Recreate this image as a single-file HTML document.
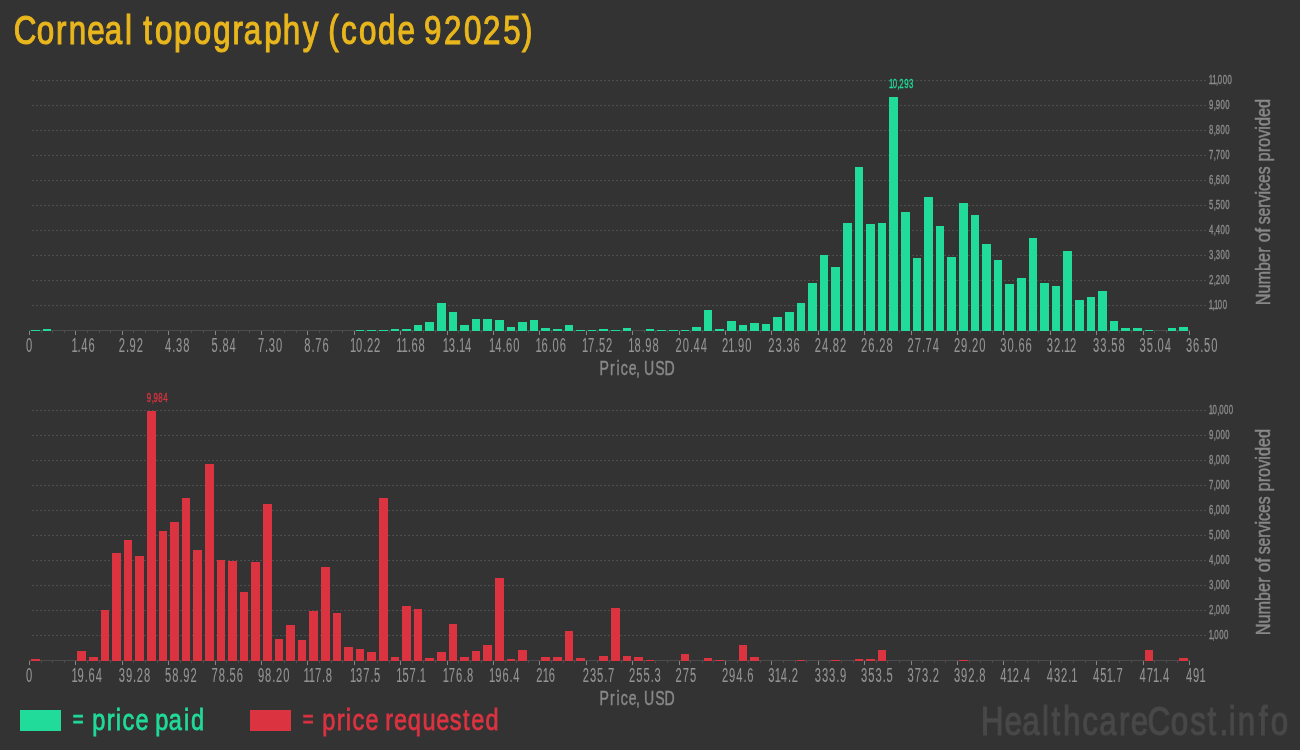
<!DOCTYPE html>
<html lang="en">
<head>
<meta charset="utf-8">
<title>Corneal topography (code 92025)</title>
<style>
html,body{margin:0;padding:0;background:#333333;}
body{width:1300px;height:750px;overflow:hidden;}
svg{display:block;font-family:"Liberation Sans",Arial,Helvetica,sans-serif;}
.c{shape-rendering:crispEdges;}
.g{shape-rendering:crispEdges;stroke:#4e4e4e;stroke-width:1;stroke-dasharray:2 2;}
</style>
</head>
<body>
<svg width="1300" height="750" viewBox="0 0 1300 750">
<rect x="0" y="0" width="1300" height="750" fill="#333333"/>
<text transform="translate(0 44.4) scale(0.775 1)" x="17.68 47.45 72.26 88.71 112.66 135.28 161.32 170.32 184.85 200.03 224.43 250.03 275.01 300.00 314.63 340.88 364.80 390.80 412.90 423.55 439.91 463.25 487.69 512.98 535.48 547.12 572.97 598.74 623.29 649.43 673.51" font-size="40.4" fill="#E9B61D" stroke="#E9B61D" stroke-width="1.05" vector-effect="non-scaling-stroke" xml:space="preserve">Corneal topography (code 92025)</text>
<g id="chart-paid">
<line class="g" x1="32" x2="1206" y1="80.5" y2="80.5"/>
<line class="g" x1="32" x2="1206" y1="105.5" y2="105.5"/>
<line class="g" x1="32" x2="1206" y1="130.5" y2="130.5"/>
<line class="g" x1="32" x2="1206" y1="155.5" y2="155.5"/>
<line class="g" x1="32" x2="1206" y1="180.5" y2="180.5"/>
<line class="g" x1="32" x2="1206" y1="205.5" y2="205.5"/>
<line class="g" x1="32" x2="1206" y1="230.5" y2="230.5"/>
<line class="g" x1="32" x2="1206" y1="255.5" y2="255.5"/>
<line class="g" x1="32" x2="1206" y1="280.5" y2="280.5"/>
<line class="g" x1="32" x2="1206" y1="305.5" y2="305.5"/>
<rect class="c" x="29" y="330" width="1161" height="1" fill="#4c4c4c"/>
<rect class="c" x="29" y="331" width="1" height="4" fill="#858585"/>
<rect class="c" x="41" y="331" width="1" height="2" fill="#4d4d4d"/>
<rect class="c" x="52" y="331" width="1" height="2" fill="#4d4d4d"/>
<rect class="c" x="64" y="331" width="1" height="2" fill="#4d4d4d"/>
<rect class="c" x="75" y="331" width="1" height="4" fill="#858585"/>
<rect class="c" x="87" y="331" width="1" height="2" fill="#4d4d4d"/>
<rect class="c" x="99" y="331" width="1" height="2" fill="#4d4d4d"/>
<rect class="c" x="110" y="331" width="1" height="2" fill="#4d4d4d"/>
<rect class="c" x="122" y="331" width="1" height="4" fill="#858585"/>
<rect class="c" x="133" y="331" width="1" height="2" fill="#4d4d4d"/>
<rect class="c" x="145" y="331" width="1" height="2" fill="#4d4d4d"/>
<rect class="c" x="157" y="331" width="1" height="2" fill="#4d4d4d"/>
<rect class="c" x="168" y="331" width="1" height="4" fill="#858585"/>
<rect class="c" x="180" y="331" width="1" height="2" fill="#4d4d4d"/>
<rect class="c" x="191" y="331" width="1" height="2" fill="#4d4d4d"/>
<rect class="c" x="203" y="331" width="1" height="2" fill="#4d4d4d"/>
<rect class="c" x="215" y="331" width="1" height="4" fill="#858585"/>
<rect class="c" x="226" y="331" width="1" height="2" fill="#4d4d4d"/>
<rect class="c" x="238" y="331" width="1" height="2" fill="#4d4d4d"/>
<rect class="c" x="249" y="331" width="1" height="2" fill="#4d4d4d"/>
<rect class="c" x="261" y="331" width="1" height="4" fill="#858585"/>
<rect class="c" x="273" y="331" width="1" height="2" fill="#4d4d4d"/>
<rect class="c" x="284" y="331" width="1" height="2" fill="#4d4d4d"/>
<rect class="c" x="296" y="331" width="1" height="2" fill="#4d4d4d"/>
<rect class="c" x="307" y="331" width="1" height="4" fill="#858585"/>
<rect class="c" x="319" y="331" width="1" height="2" fill="#4d4d4d"/>
<rect class="c" x="331" y="331" width="1" height="2" fill="#4d4d4d"/>
<rect class="c" x="342" y="331" width="1" height="2" fill="#4d4d4d"/>
<rect class="c" x="354" y="331" width="1" height="4" fill="#858585"/>
<rect class="c" x="365" y="331" width="1" height="2" fill="#4d4d4d"/>
<rect class="c" x="377" y="331" width="1" height="2" fill="#4d4d4d"/>
<rect class="c" x="389" y="331" width="1" height="2" fill="#4d4d4d"/>
<rect class="c" x="400" y="331" width="1" height="4" fill="#858585"/>
<rect class="c" x="412" y="331" width="1" height="2" fill="#4d4d4d"/>
<rect class="c" x="423" y="331" width="1" height="2" fill="#4d4d4d"/>
<rect class="c" x="435" y="331" width="1" height="2" fill="#4d4d4d"/>
<rect class="c" x="447" y="331" width="1" height="4" fill="#858585"/>
<rect class="c" x="458" y="331" width="1" height="2" fill="#4d4d4d"/>
<rect class="c" x="470" y="331" width="1" height="2" fill="#4d4d4d"/>
<rect class="c" x="481" y="331" width="1" height="2" fill="#4d4d4d"/>
<rect class="c" x="493" y="331" width="1" height="4" fill="#858585"/>
<rect class="c" x="505" y="331" width="1" height="2" fill="#4d4d4d"/>
<rect class="c" x="516" y="331" width="1" height="2" fill="#4d4d4d"/>
<rect class="c" x="528" y="331" width="1" height="2" fill="#4d4d4d"/>
<rect class="c" x="539" y="331" width="1" height="4" fill="#858585"/>
<rect class="c" x="551" y="331" width="1" height="2" fill="#4d4d4d"/>
<rect class="c" x="563" y="331" width="1" height="2" fill="#4d4d4d"/>
<rect class="c" x="574" y="331" width="1" height="2" fill="#4d4d4d"/>
<rect class="c" x="586" y="331" width="1" height="4" fill="#858585"/>
<rect class="c" x="597" y="331" width="1" height="2" fill="#4d4d4d"/>
<rect class="c" x="609" y="331" width="1" height="2" fill="#4d4d4d"/>
<rect class="c" x="621" y="331" width="1" height="2" fill="#4d4d4d"/>
<rect class="c" x="632" y="331" width="1" height="4" fill="#858585"/>
<rect class="c" x="644" y="331" width="1" height="2" fill="#4d4d4d"/>
<rect class="c" x="655" y="331" width="1" height="2" fill="#4d4d4d"/>
<rect class="c" x="667" y="331" width="1" height="2" fill="#4d4d4d"/>
<rect class="c" x="679" y="331" width="1" height="4" fill="#858585"/>
<rect class="c" x="690" y="331" width="1" height="2" fill="#4d4d4d"/>
<rect class="c" x="702" y="331" width="1" height="2" fill="#4d4d4d"/>
<rect class="c" x="713" y="331" width="1" height="2" fill="#4d4d4d"/>
<rect class="c" x="725" y="331" width="1" height="4" fill="#858585"/>
<rect class="c" x="737" y="331" width="1" height="2" fill="#4d4d4d"/>
<rect class="c" x="748" y="331" width="1" height="2" fill="#4d4d4d"/>
<rect class="c" x="760" y="331" width="1" height="2" fill="#4d4d4d"/>
<rect class="c" x="771" y="331" width="1" height="4" fill="#858585"/>
<rect class="c" x="783" y="331" width="1" height="2" fill="#4d4d4d"/>
<rect class="c" x="795" y="331" width="1" height="2" fill="#4d4d4d"/>
<rect class="c" x="806" y="331" width="1" height="2" fill="#4d4d4d"/>
<rect class="c" x="818" y="331" width="1" height="4" fill="#858585"/>
<rect class="c" x="829" y="331" width="1" height="2" fill="#4d4d4d"/>
<rect class="c" x="841" y="331" width="1" height="2" fill="#4d4d4d"/>
<rect class="c" x="853" y="331" width="1" height="2" fill="#4d4d4d"/>
<rect class="c" x="864" y="331" width="1" height="4" fill="#858585"/>
<rect class="c" x="876" y="331" width="1" height="2" fill="#4d4d4d"/>
<rect class="c" x="887" y="331" width="1" height="2" fill="#4d4d4d"/>
<rect class="c" x="899" y="331" width="1" height="2" fill="#4d4d4d"/>
<rect class="c" x="911" y="331" width="1" height="4" fill="#858585"/>
<rect class="c" x="922" y="331" width="1" height="2" fill="#4d4d4d"/>
<rect class="c" x="934" y="331" width="1" height="2" fill="#4d4d4d"/>
<rect class="c" x="945" y="331" width="1" height="2" fill="#4d4d4d"/>
<rect class="c" x="957" y="331" width="1" height="4" fill="#858585"/>
<rect class="c" x="969" y="331" width="1" height="2" fill="#4d4d4d"/>
<rect class="c" x="980" y="331" width="1" height="2" fill="#4d4d4d"/>
<rect class="c" x="992" y="331" width="1" height="2" fill="#4d4d4d"/>
<rect class="c" x="1003" y="331" width="1" height="4" fill="#858585"/>
<rect class="c" x="1015" y="331" width="1" height="2" fill="#4d4d4d"/>
<rect class="c" x="1027" y="331" width="1" height="2" fill="#4d4d4d"/>
<rect class="c" x="1038" y="331" width="1" height="2" fill="#4d4d4d"/>
<rect class="c" x="1050" y="331" width="1" height="4" fill="#858585"/>
<rect class="c" x="1061" y="331" width="1" height="2" fill="#4d4d4d"/>
<rect class="c" x="1073" y="331" width="1" height="2" fill="#4d4d4d"/>
<rect class="c" x="1085" y="331" width="1" height="2" fill="#4d4d4d"/>
<rect class="c" x="1096" y="331" width="1" height="4" fill="#858585"/>
<rect class="c" x="1108" y="331" width="1" height="2" fill="#4d4d4d"/>
<rect class="c" x="1119" y="331" width="1" height="2" fill="#4d4d4d"/>
<rect class="c" x="1131" y="331" width="1" height="2" fill="#4d4d4d"/>
<rect class="c" x="1143" y="331" width="1" height="4" fill="#858585"/>
<rect class="c" x="1154" y="331" width="1" height="2" fill="#4d4d4d"/>
<rect class="c" x="1166" y="331" width="1" height="2" fill="#4d4d4d"/>
<rect class="c" x="1177" y="331" width="1" height="2" fill="#4d4d4d"/>
<rect class="c" x="1189" y="331" width="1" height="4" fill="#858585"/>
<rect class="c" x="31" y="330" width="9" height="1" fill="#20DB99"/>
<rect class="c" x="43" y="329" width="8" height="2" fill="#20DB99"/>
<rect class="c" x="356" y="330" width="8" height="1" fill="#20DB99"/>
<rect class="c" x="367" y="330" width="9" height="1" fill="#20DB99"/>
<rect class="c" x="379" y="330" width="9" height="1" fill="#20DB99"/>
<rect class="c" x="391" y="329" width="8" height="2" fill="#20DB99"/>
<rect class="c" x="402" y="329" width="9" height="2" fill="#20DB99"/>
<rect class="c" x="414" y="325" width="8" height="6" fill="#20DB99"/>
<rect class="c" x="425" y="322" width="9" height="9" fill="#20DB99"/>
<rect class="c" x="437" y="303" width="9" height="28" fill="#20DB99"/>
<rect class="c" x="449" y="312" width="8" height="19" fill="#20DB99"/>
<rect class="c" x="460" y="325" width="9" height="6" fill="#20DB99"/>
<rect class="c" x="472" y="319" width="8" height="12" fill="#20DB99"/>
<rect class="c" x="483" y="319" width="9" height="12" fill="#20DB99"/>
<rect class="c" x="495" y="320" width="9" height="11" fill="#20DB99"/>
<rect class="c" x="507" y="327" width="8" height="4" fill="#20DB99"/>
<rect class="c" x="518" y="322" width="9" height="9" fill="#20DB99"/>
<rect class="c" x="530" y="320" width="8" height="11" fill="#20DB99"/>
<rect class="c" x="541" y="328" width="9" height="3" fill="#20DB99"/>
<rect class="c" x="553" y="329" width="9" height="2" fill="#20DB99"/>
<rect class="c" x="565" y="325" width="8" height="6" fill="#20DB99"/>
<rect class="c" x="576" y="330" width="9" height="1" fill="#20DB99"/>
<rect class="c" x="588" y="330" width="8" height="1" fill="#20DB99"/>
<rect class="c" x="599" y="329" width="9" height="2" fill="#20DB99"/>
<rect class="c" x="611" y="330" width="9" height="1" fill="#20DB99"/>
<rect class="c" x="623" y="328" width="8" height="3" fill="#20DB99"/>
<rect class="c" x="646" y="329" width="8" height="2" fill="#20DB99"/>
<rect class="c" x="657" y="330" width="9" height="1" fill="#20DB99"/>
<rect class="c" x="669" y="330" width="9" height="1" fill="#20DB99"/>
<rect class="c" x="681" y="330" width="8" height="1" fill="#20DB99"/>
<rect class="c" x="692" y="327" width="9" height="4" fill="#20DB99"/>
<rect class="c" x="704" y="310" width="8" height="21" fill="#20DB99"/>
<rect class="c" x="715" y="329" width="9" height="2" fill="#20DB99"/>
<rect class="c" x="727" y="321" width="9" height="10" fill="#20DB99"/>
<rect class="c" x="739" y="325" width="8" height="6" fill="#20DB99"/>
<rect class="c" x="750" y="323" width="9" height="8" fill="#20DB99"/>
<rect class="c" x="762" y="324" width="8" height="7" fill="#20DB99"/>
<rect class="c" x="773" y="317" width="9" height="14" fill="#20DB99"/>
<rect class="c" x="785" y="312" width="9" height="19" fill="#20DB99"/>
<rect class="c" x="797" y="303" width="8" height="28" fill="#20DB99"/>
<rect class="c" x="808" y="283" width="9" height="48" fill="#20DB99"/>
<rect class="c" x="820" y="255" width="8" height="76" fill="#20DB99"/>
<rect class="c" x="831" y="267" width="9" height="64" fill="#20DB99"/>
<rect class="c" x="843" y="223" width="9" height="108" fill="#20DB99"/>
<rect class="c" x="855" y="167" width="8" height="164" fill="#20DB99"/>
<rect class="c" x="866" y="224" width="9" height="107" fill="#20DB99"/>
<rect class="c" x="878" y="223" width="8" height="108" fill="#20DB99"/>
<rect class="c" x="889" y="97" width="9" height="234" fill="#20DB99"/>
<rect class="c" x="901" y="212" width="9" height="119" fill="#20DB99"/>
<rect class="c" x="913" y="258" width="8" height="73" fill="#20DB99"/>
<rect class="c" x="924" y="197" width="9" height="134" fill="#20DB99"/>
<rect class="c" x="936" y="226" width="8" height="105" fill="#20DB99"/>
<rect class="c" x="947" y="257" width="9" height="74" fill="#20DB99"/>
<rect class="c" x="959" y="203" width="9" height="128" fill="#20DB99"/>
<rect class="c" x="971" y="215" width="8" height="116" fill="#20DB99"/>
<rect class="c" x="982" y="244" width="9" height="87" fill="#20DB99"/>
<rect class="c" x="994" y="260" width="8" height="71" fill="#20DB99"/>
<rect class="c" x="1005" y="284" width="9" height="47" fill="#20DB99"/>
<rect class="c" x="1017" y="278" width="9" height="53" fill="#20DB99"/>
<rect class="c" x="1029" y="238" width="8" height="93" fill="#20DB99"/>
<rect class="c" x="1040" y="283" width="9" height="48" fill="#20DB99"/>
<rect class="c" x="1052" y="286" width="8" height="45" fill="#20DB99"/>
<rect class="c" x="1063" y="251" width="9" height="80" fill="#20DB99"/>
<rect class="c" x="1075" y="300" width="9" height="31" fill="#20DB99"/>
<rect class="c" x="1087" y="297" width="8" height="34" fill="#20DB99"/>
<rect class="c" x="1098" y="291" width="9" height="40" fill="#20DB99"/>
<rect class="c" x="1110" y="321" width="8" height="10" fill="#20DB99"/>
<rect class="c" x="1121" y="328" width="9" height="3" fill="#20DB99"/>
<rect class="c" x="1133" y="328" width="9" height="3" fill="#20DB99"/>
<rect class="c" x="1145" y="330" width="8" height="1" fill="#20DB99"/>
<rect class="c" x="1168" y="328" width="8" height="3" fill="#20DB99"/>
<rect class="c" x="1179" y="327" width="9" height="4" fill="#20DB99"/>
<text transform="translate(25.90 352.30) scale(0.57 1)" x="0.00" font-size="19.6" fill="#949494" stroke="#949494" stroke-width="0.08" vector-effect="non-scaling-stroke">0</text>
<text transform="translate(72.30 352.30) scale(0.57 1)" x="-1.40 9.30 15.79 28.42" font-size="19.6" fill="#949494" stroke="#949494" stroke-width="0.08" vector-effect="non-scaling-stroke">1.46</text>
<text transform="translate(118.70 352.30) scale(0.57 1)" x="0.00 12.63 19.12 31.75" font-size="19.6" fill="#949494" stroke="#949494" stroke-width="0.08" vector-effect="non-scaling-stroke">2.92</text>
<text transform="translate(165.10 352.30) scale(0.57 1)" x="0.00 12.63 19.12 31.75" font-size="19.6" fill="#949494" stroke="#949494" stroke-width="0.08" vector-effect="non-scaling-stroke">4.38</text>
<text transform="translate(211.50 352.30) scale(0.57 1)" x="0.00 12.63 19.12 31.75" font-size="19.6" fill="#949494" stroke="#949494" stroke-width="0.08" vector-effect="non-scaling-stroke">5.84</text>
<text transform="translate(257.90 352.30) scale(0.57 1)" x="0.00 12.63 19.12 31.75" font-size="19.6" fill="#949494" stroke="#949494" stroke-width="0.08" vector-effect="non-scaling-stroke">7.30</text>
<text transform="translate(304.30 352.30) scale(0.57 1)" x="0.00 12.63 19.12 31.75" font-size="19.6" fill="#949494" stroke="#949494" stroke-width="0.08" vector-effect="non-scaling-stroke">8.76</text>
<text transform="translate(350.70 352.30) scale(0.57 1)" x="-1.40 9.30 21.93 28.42 41.05" font-size="19.6" fill="#949494" stroke="#949494" stroke-width="0.08" vector-effect="non-scaling-stroke">10.22</text>
<text transform="translate(397.10 352.30) scale(0.57 1)" x="-1.40 7.89 18.60 25.09 37.72" font-size="19.6" fill="#949494" stroke="#949494" stroke-width="0.08" vector-effect="non-scaling-stroke">11.68</text>
<text transform="translate(443.50 352.30) scale(0.57 1)" x="-1.40 9.30 21.93 27.02 37.72" font-size="19.6" fill="#949494" stroke="#949494" stroke-width="0.08" vector-effect="non-scaling-stroke">13.14</text>
<text transform="translate(489.90 352.30) scale(0.57 1)" x="-1.40 9.30 21.93 28.42 41.05" font-size="19.6" fill="#949494" stroke="#949494" stroke-width="0.08" vector-effect="non-scaling-stroke">14.60</text>
<text transform="translate(536.30 352.30) scale(0.57 1)" x="-1.40 9.30 21.93 28.42 41.05" font-size="19.6" fill="#949494" stroke="#949494" stroke-width="0.08" vector-effect="non-scaling-stroke">16.06</text>
<text transform="translate(582.70 352.30) scale(0.57 1)" x="-1.40 9.30 21.93 28.42 41.05" font-size="19.6" fill="#949494" stroke="#949494" stroke-width="0.08" vector-effect="non-scaling-stroke">17.52</text>
<text transform="translate(629.10 352.30) scale(0.57 1)" x="-1.40 9.30 21.93 28.42 41.05" font-size="19.6" fill="#949494" stroke="#949494" stroke-width="0.08" vector-effect="non-scaling-stroke">18.98</text>
<text transform="translate(675.50 352.30) scale(0.57 1)" x="0.00 12.63 25.26 31.75 44.39" font-size="19.6" fill="#949494" stroke="#949494" stroke-width="0.08" vector-effect="non-scaling-stroke">20.44</text>
<text transform="translate(721.90 352.30) scale(0.57 1)" x="0.00 11.23 21.93 28.42 41.05" font-size="19.6" fill="#949494" stroke="#949494" stroke-width="0.08" vector-effect="non-scaling-stroke">21.90</text>
<text transform="translate(768.30 352.30) scale(0.57 1)" x="0.00 12.63 25.26 31.75 44.39" font-size="19.6" fill="#949494" stroke="#949494" stroke-width="0.08" vector-effect="non-scaling-stroke">23.36</text>
<text transform="translate(814.70 352.30) scale(0.57 1)" x="0.00 12.63 25.26 31.75 44.39" font-size="19.6" fill="#949494" stroke="#949494" stroke-width="0.08" vector-effect="non-scaling-stroke">24.82</text>
<text transform="translate(861.10 352.30) scale(0.57 1)" x="0.00 12.63 25.26 31.75 44.39" font-size="19.6" fill="#949494" stroke="#949494" stroke-width="0.08" vector-effect="non-scaling-stroke">26.28</text>
<text transform="translate(907.50 352.30) scale(0.57 1)" x="0.00 12.63 25.26 31.75 44.39" font-size="19.6" fill="#949494" stroke="#949494" stroke-width="0.08" vector-effect="non-scaling-stroke">27.74</text>
<text transform="translate(953.90 352.30) scale(0.57 1)" x="0.00 12.63 25.26 31.75 44.39" font-size="19.6" fill="#949494" stroke="#949494" stroke-width="0.08" vector-effect="non-scaling-stroke">29.20</text>
<text transform="translate(1000.30 352.30) scale(0.57 1)" x="0.00 12.63 25.26 31.75 44.39" font-size="19.6" fill="#949494" stroke="#949494" stroke-width="0.08" vector-effect="non-scaling-stroke">30.66</text>
<text transform="translate(1046.70 352.30) scale(0.57 1)" x="0.00 12.63 25.26 30.35 41.05" font-size="19.6" fill="#949494" stroke="#949494" stroke-width="0.08" vector-effect="non-scaling-stroke">32.12</text>
<text transform="translate(1093.10 352.30) scale(0.57 1)" x="0.00 12.63 25.26 31.75 44.39" font-size="19.6" fill="#949494" stroke="#949494" stroke-width="0.08" vector-effect="non-scaling-stroke">33.58</text>
<text transform="translate(1139.50 352.30) scale(0.57 1)" x="0.00 12.63 25.26 31.75 44.39" font-size="19.6" fill="#949494" stroke="#949494" stroke-width="0.08" vector-effect="non-scaling-stroke">35.04</text>
<text transform="translate(1185.90 352.30) scale(0.57 1)" x="0.00 12.63 25.26 31.75 44.39" font-size="19.6" fill="#949494" stroke="#949494" stroke-width="0.08" vector-effect="non-scaling-stroke">36.50</text>
<text transform="translate(1209.00 309.20) scale(0.62 1)" x="-0.48 5.65 8.06 14.19 22.02" font-size="12.6" fill="#8c8c8c" stroke="#8c8c8c" stroke-width="0.3" vector-effect="non-scaling-stroke">1,100</text>
<text transform="translate(1209.00 284.20) scale(0.62 1)" x="0.00 7.82 10.73 18.55 26.37" font-size="12.6" fill="#8c8c8c" stroke="#8c8c8c" stroke-width="0.3" vector-effect="non-scaling-stroke">2,200</text>
<text transform="translate(1209.00 259.20) scale(0.62 1)" x="0.00 7.82 10.73 18.55 26.37" font-size="12.6" fill="#8c8c8c" stroke="#8c8c8c" stroke-width="0.3" vector-effect="non-scaling-stroke">3,300</text>
<text transform="translate(1209.00 234.20) scale(0.62 1)" x="0.00 7.82 10.73 18.55 26.37" font-size="12.6" fill="#8c8c8c" stroke="#8c8c8c" stroke-width="0.3" vector-effect="non-scaling-stroke">4,400</text>
<text transform="translate(1209.00 209.20) scale(0.62 1)" x="0.00 7.82 10.73 18.55 26.37" font-size="12.6" fill="#8c8c8c" stroke="#8c8c8c" stroke-width="0.3" vector-effect="non-scaling-stroke">5,500</text>
<text transform="translate(1209.00 184.20) scale(0.62 1)" x="0.00 7.82 10.73 18.55 26.37" font-size="12.6" fill="#8c8c8c" stroke="#8c8c8c" stroke-width="0.3" vector-effect="non-scaling-stroke">6,600</text>
<text transform="translate(1209.00 159.20) scale(0.62 1)" x="0.00 7.82 10.73 18.55 26.37" font-size="12.6" fill="#8c8c8c" stroke="#8c8c8c" stroke-width="0.3" vector-effect="non-scaling-stroke">7,700</text>
<text transform="translate(1209.00 134.20) scale(0.62 1)" x="0.00 7.82 10.73 18.55 26.37" font-size="12.6" fill="#8c8c8c" stroke="#8c8c8c" stroke-width="0.3" vector-effect="non-scaling-stroke">8,800</text>
<text transform="translate(1209.00 109.20) scale(0.62 1)" x="0.00 7.82 10.73 18.55 26.37" font-size="12.6" fill="#8c8c8c" stroke="#8c8c8c" stroke-width="0.3" vector-effect="non-scaling-stroke">9,900</text>
<text transform="translate(1209.00 84.20) scale(0.62 1)" x="-0.48 5.16 11.29 14.19 22.02 29.84" font-size="12.6" fill="#8c8c8c" stroke="#8c8c8c" stroke-width="0.3" vector-effect="non-scaling-stroke">11,000</text>
<text transform="translate(889.20 88.30) scale(0.62 1)" x="-0.48 5.65 13.47 16.37 24.19 32.02" font-size="12.6" fill="#20DB99" stroke="#20DB99" stroke-width="0.3" vector-effect="non-scaling-stroke">10,293</text>
<text transform="translate(0 375.0) scale(0.72 1)" x="832.61 847.36 856.11 862.04 873.17 883.38 889.44 894.51 909.93 922.81" font-size="19.6" fill="#888888" stroke="#888888" stroke-width="0.4" vector-effect="non-scaling-stroke" xml:space="preserve">Price, USD</text>
<g transform="translate(1270 304.2) rotate(-90)"><text y="0" font-size="20" fill="#888888" stroke="#888888" stroke-width="0.5"><tspan x="-1.12" textLength="57.90" lengthAdjust="spacingAndGlyphs">Number</tspan> <tspan x="61.85" textLength="14.33" lengthAdjust="spacingAndGlyphs">of</tspan> <tspan x="79.85" textLength="57.99" lengthAdjust="spacingAndGlyphs">services</tspan> <tspan x="142.80" textLength="62.55" lengthAdjust="spacingAndGlyphs">provided</tspan></text></g>
</g>
<g id="chart-requested">
<line class="g" x1="32" x2="1206" y1="410.5" y2="410.5"/>
<line class="g" x1="32" x2="1206" y1="435.5" y2="435.5"/>
<line class="g" x1="32" x2="1206" y1="460.5" y2="460.5"/>
<line class="g" x1="32" x2="1206" y1="485.5" y2="485.5"/>
<line class="g" x1="32" x2="1206" y1="510.5" y2="510.5"/>
<line class="g" x1="32" x2="1206" y1="535.5" y2="535.5"/>
<line class="g" x1="32" x2="1206" y1="560.5" y2="560.5"/>
<line class="g" x1="32" x2="1206" y1="585.5" y2="585.5"/>
<line class="g" x1="32" x2="1206" y1="610.5" y2="610.5"/>
<line class="g" x1="32" x2="1206" y1="635.5" y2="635.5"/>
<rect class="c" x="29" y="660" width="1161" height="1" fill="#4c4c4c"/>
<rect class="c" x="29" y="661" width="1" height="4" fill="#858585"/>
<rect class="c" x="41" y="661" width="1" height="2" fill="#4d4d4d"/>
<rect class="c" x="52" y="661" width="1" height="2" fill="#4d4d4d"/>
<rect class="c" x="64" y="661" width="1" height="2" fill="#4d4d4d"/>
<rect class="c" x="75" y="661" width="1" height="4" fill="#858585"/>
<rect class="c" x="87" y="661" width="1" height="2" fill="#4d4d4d"/>
<rect class="c" x="99" y="661" width="1" height="2" fill="#4d4d4d"/>
<rect class="c" x="110" y="661" width="1" height="2" fill="#4d4d4d"/>
<rect class="c" x="122" y="661" width="1" height="4" fill="#858585"/>
<rect class="c" x="133" y="661" width="1" height="2" fill="#4d4d4d"/>
<rect class="c" x="145" y="661" width="1" height="2" fill="#4d4d4d"/>
<rect class="c" x="157" y="661" width="1" height="2" fill="#4d4d4d"/>
<rect class="c" x="168" y="661" width="1" height="4" fill="#858585"/>
<rect class="c" x="180" y="661" width="1" height="2" fill="#4d4d4d"/>
<rect class="c" x="191" y="661" width="1" height="2" fill="#4d4d4d"/>
<rect class="c" x="203" y="661" width="1" height="2" fill="#4d4d4d"/>
<rect class="c" x="215" y="661" width="1" height="4" fill="#858585"/>
<rect class="c" x="226" y="661" width="1" height="2" fill="#4d4d4d"/>
<rect class="c" x="238" y="661" width="1" height="2" fill="#4d4d4d"/>
<rect class="c" x="249" y="661" width="1" height="2" fill="#4d4d4d"/>
<rect class="c" x="261" y="661" width="1" height="4" fill="#858585"/>
<rect class="c" x="273" y="661" width="1" height="2" fill="#4d4d4d"/>
<rect class="c" x="284" y="661" width="1" height="2" fill="#4d4d4d"/>
<rect class="c" x="296" y="661" width="1" height="2" fill="#4d4d4d"/>
<rect class="c" x="307" y="661" width="1" height="4" fill="#858585"/>
<rect class="c" x="319" y="661" width="1" height="2" fill="#4d4d4d"/>
<rect class="c" x="331" y="661" width="1" height="2" fill="#4d4d4d"/>
<rect class="c" x="342" y="661" width="1" height="2" fill="#4d4d4d"/>
<rect class="c" x="354" y="661" width="1" height="4" fill="#858585"/>
<rect class="c" x="365" y="661" width="1" height="2" fill="#4d4d4d"/>
<rect class="c" x="377" y="661" width="1" height="2" fill="#4d4d4d"/>
<rect class="c" x="389" y="661" width="1" height="2" fill="#4d4d4d"/>
<rect class="c" x="400" y="661" width="1" height="4" fill="#858585"/>
<rect class="c" x="412" y="661" width="1" height="2" fill="#4d4d4d"/>
<rect class="c" x="423" y="661" width="1" height="2" fill="#4d4d4d"/>
<rect class="c" x="435" y="661" width="1" height="2" fill="#4d4d4d"/>
<rect class="c" x="447" y="661" width="1" height="4" fill="#858585"/>
<rect class="c" x="458" y="661" width="1" height="2" fill="#4d4d4d"/>
<rect class="c" x="470" y="661" width="1" height="2" fill="#4d4d4d"/>
<rect class="c" x="481" y="661" width="1" height="2" fill="#4d4d4d"/>
<rect class="c" x="493" y="661" width="1" height="4" fill="#858585"/>
<rect class="c" x="505" y="661" width="1" height="2" fill="#4d4d4d"/>
<rect class="c" x="516" y="661" width="1" height="2" fill="#4d4d4d"/>
<rect class="c" x="528" y="661" width="1" height="2" fill="#4d4d4d"/>
<rect class="c" x="539" y="661" width="1" height="4" fill="#858585"/>
<rect class="c" x="551" y="661" width="1" height="2" fill="#4d4d4d"/>
<rect class="c" x="563" y="661" width="1" height="2" fill="#4d4d4d"/>
<rect class="c" x="574" y="661" width="1" height="2" fill="#4d4d4d"/>
<rect class="c" x="586" y="661" width="1" height="4" fill="#858585"/>
<rect class="c" x="597" y="661" width="1" height="2" fill="#4d4d4d"/>
<rect class="c" x="609" y="661" width="1" height="2" fill="#4d4d4d"/>
<rect class="c" x="621" y="661" width="1" height="2" fill="#4d4d4d"/>
<rect class="c" x="632" y="661" width="1" height="4" fill="#858585"/>
<rect class="c" x="644" y="661" width="1" height="2" fill="#4d4d4d"/>
<rect class="c" x="655" y="661" width="1" height="2" fill="#4d4d4d"/>
<rect class="c" x="667" y="661" width="1" height="2" fill="#4d4d4d"/>
<rect class="c" x="679" y="661" width="1" height="4" fill="#858585"/>
<rect class="c" x="690" y="661" width="1" height="2" fill="#4d4d4d"/>
<rect class="c" x="702" y="661" width="1" height="2" fill="#4d4d4d"/>
<rect class="c" x="713" y="661" width="1" height="2" fill="#4d4d4d"/>
<rect class="c" x="725" y="661" width="1" height="4" fill="#858585"/>
<rect class="c" x="737" y="661" width="1" height="2" fill="#4d4d4d"/>
<rect class="c" x="748" y="661" width="1" height="2" fill="#4d4d4d"/>
<rect class="c" x="760" y="661" width="1" height="2" fill="#4d4d4d"/>
<rect class="c" x="771" y="661" width="1" height="4" fill="#858585"/>
<rect class="c" x="783" y="661" width="1" height="2" fill="#4d4d4d"/>
<rect class="c" x="795" y="661" width="1" height="2" fill="#4d4d4d"/>
<rect class="c" x="806" y="661" width="1" height="2" fill="#4d4d4d"/>
<rect class="c" x="818" y="661" width="1" height="4" fill="#858585"/>
<rect class="c" x="829" y="661" width="1" height="2" fill="#4d4d4d"/>
<rect class="c" x="841" y="661" width="1" height="2" fill="#4d4d4d"/>
<rect class="c" x="853" y="661" width="1" height="2" fill="#4d4d4d"/>
<rect class="c" x="864" y="661" width="1" height="4" fill="#858585"/>
<rect class="c" x="876" y="661" width="1" height="2" fill="#4d4d4d"/>
<rect class="c" x="887" y="661" width="1" height="2" fill="#4d4d4d"/>
<rect class="c" x="899" y="661" width="1" height="2" fill="#4d4d4d"/>
<rect class="c" x="911" y="661" width="1" height="4" fill="#858585"/>
<rect class="c" x="922" y="661" width="1" height="2" fill="#4d4d4d"/>
<rect class="c" x="934" y="661" width="1" height="2" fill="#4d4d4d"/>
<rect class="c" x="945" y="661" width="1" height="2" fill="#4d4d4d"/>
<rect class="c" x="957" y="661" width="1" height="4" fill="#858585"/>
<rect class="c" x="969" y="661" width="1" height="2" fill="#4d4d4d"/>
<rect class="c" x="980" y="661" width="1" height="2" fill="#4d4d4d"/>
<rect class="c" x="992" y="661" width="1" height="2" fill="#4d4d4d"/>
<rect class="c" x="1003" y="661" width="1" height="4" fill="#858585"/>
<rect class="c" x="1015" y="661" width="1" height="2" fill="#4d4d4d"/>
<rect class="c" x="1027" y="661" width="1" height="2" fill="#4d4d4d"/>
<rect class="c" x="1038" y="661" width="1" height="2" fill="#4d4d4d"/>
<rect class="c" x="1050" y="661" width="1" height="4" fill="#858585"/>
<rect class="c" x="1061" y="661" width="1" height="2" fill="#4d4d4d"/>
<rect class="c" x="1073" y="661" width="1" height="2" fill="#4d4d4d"/>
<rect class="c" x="1085" y="661" width="1" height="2" fill="#4d4d4d"/>
<rect class="c" x="1096" y="661" width="1" height="4" fill="#858585"/>
<rect class="c" x="1108" y="661" width="1" height="2" fill="#4d4d4d"/>
<rect class="c" x="1119" y="661" width="1" height="2" fill="#4d4d4d"/>
<rect class="c" x="1131" y="661" width="1" height="2" fill="#4d4d4d"/>
<rect class="c" x="1143" y="661" width="1" height="4" fill="#858585"/>
<rect class="c" x="1154" y="661" width="1" height="2" fill="#4d4d4d"/>
<rect class="c" x="1166" y="661" width="1" height="2" fill="#4d4d4d"/>
<rect class="c" x="1177" y="661" width="1" height="2" fill="#4d4d4d"/>
<rect class="c" x="1189" y="661" width="1" height="4" fill="#858585"/>
<rect class="c" x="31" y="659" width="9" height="2" fill="#DC3341"/>
<rect class="c" x="77" y="651" width="9" height="10" fill="#DC3341"/>
<rect class="c" x="89" y="657" width="9" height="4" fill="#DC3341"/>
<rect class="c" x="101" y="610" width="8" height="51" fill="#DC3341"/>
<rect class="c" x="112" y="553" width="9" height="108" fill="#DC3341"/>
<rect class="c" x="124" y="540" width="8" height="121" fill="#DC3341"/>
<rect class="c" x="135" y="556" width="9" height="105" fill="#DC3341"/>
<rect class="c" x="147" y="411" width="9" height="250" fill="#DC3341"/>
<rect class="c" x="159" y="531" width="8" height="130" fill="#DC3341"/>
<rect class="c" x="170" y="522" width="9" height="139" fill="#DC3341"/>
<rect class="c" x="182" y="498" width="8" height="163" fill="#DC3341"/>
<rect class="c" x="193" y="550" width="9" height="111" fill="#DC3341"/>
<rect class="c" x="205" y="464" width="9" height="197" fill="#DC3341"/>
<rect class="c" x="217" y="560" width="8" height="101" fill="#DC3341"/>
<rect class="c" x="228" y="561" width="9" height="100" fill="#DC3341"/>
<rect class="c" x="240" y="592" width="8" height="69" fill="#DC3341"/>
<rect class="c" x="251" y="562" width="9" height="99" fill="#DC3341"/>
<rect class="c" x="263" y="504" width="9" height="157" fill="#DC3341"/>
<rect class="c" x="275" y="639" width="8" height="22" fill="#DC3341"/>
<rect class="c" x="286" y="625" width="9" height="36" fill="#DC3341"/>
<rect class="c" x="298" y="640" width="8" height="21" fill="#DC3341"/>
<rect class="c" x="309" y="611" width="9" height="50" fill="#DC3341"/>
<rect class="c" x="321" y="567" width="9" height="94" fill="#DC3341"/>
<rect class="c" x="333" y="613" width="8" height="48" fill="#DC3341"/>
<rect class="c" x="344" y="647" width="9" height="14" fill="#DC3341"/>
<rect class="c" x="356" y="649" width="8" height="12" fill="#DC3341"/>
<rect class="c" x="367" y="652" width="9" height="9" fill="#DC3341"/>
<rect class="c" x="379" y="498" width="9" height="163" fill="#DC3341"/>
<rect class="c" x="391" y="657" width="8" height="4" fill="#DC3341"/>
<rect class="c" x="402" y="606" width="9" height="55" fill="#DC3341"/>
<rect class="c" x="414" y="609" width="8" height="52" fill="#DC3341"/>
<rect class="c" x="425" y="658" width="9" height="3" fill="#DC3341"/>
<rect class="c" x="437" y="652" width="9" height="9" fill="#DC3341"/>
<rect class="c" x="449" y="624" width="8" height="37" fill="#DC3341"/>
<rect class="c" x="460" y="657" width="9" height="4" fill="#DC3341"/>
<rect class="c" x="472" y="651" width="8" height="10" fill="#DC3341"/>
<rect class="c" x="483" y="645" width="9" height="16" fill="#DC3341"/>
<rect class="c" x="495" y="578" width="9" height="83" fill="#DC3341"/>
<rect class="c" x="507" y="659" width="8" height="2" fill="#DC3341"/>
<rect class="c" x="518" y="650" width="9" height="11" fill="#DC3341"/>
<rect class="c" x="541" y="657" width="9" height="4" fill="#DC3341"/>
<rect class="c" x="553" y="657" width="9" height="4" fill="#DC3341"/>
<rect class="c" x="565" y="631" width="8" height="30" fill="#DC3341"/>
<rect class="c" x="576" y="658" width="9" height="3" fill="#DC3341"/>
<rect class="c" x="599" y="656" width="9" height="5" fill="#DC3341"/>
<rect class="c" x="611" y="608" width="9" height="53" fill="#DC3341"/>
<rect class="c" x="623" y="656" width="8" height="5" fill="#DC3341"/>
<rect class="c" x="634" y="657" width="9" height="4" fill="#DC3341"/>
<rect class="c" x="646" y="660" width="8" height="1" fill="#DC3341"/>
<rect class="c" x="681" y="654" width="8" height="7" fill="#DC3341"/>
<rect class="c" x="704" y="658" width="8" height="3" fill="#DC3341"/>
<rect class="c" x="715" y="660" width="9" height="1" fill="#DC3341"/>
<rect class="c" x="739" y="645" width="8" height="16" fill="#DC3341"/>
<rect class="c" x="750" y="657" width="9" height="4" fill="#DC3341"/>
<rect class="c" x="797" y="660" width="8" height="1" fill="#DC3341"/>
<rect class="c" x="831" y="660" width="9" height="1" fill="#DC3341"/>
<rect class="c" x="855" y="659" width="8" height="2" fill="#DC3341"/>
<rect class="c" x="866" y="659" width="9" height="2" fill="#DC3341"/>
<rect class="c" x="878" y="650" width="8" height="11" fill="#DC3341"/>
<rect class="c" x="959" y="660" width="9" height="1" fill="#DC3341"/>
<rect class="c" x="1145" y="650" width="8" height="11" fill="#DC3341"/>
<rect class="c" x="1179" y="658" width="9" height="3" fill="#DC3341"/>
<text transform="translate(25.90 682.30) scale(0.57 1)" x="0.00" font-size="19.6" fill="#949494" stroke="#949494" stroke-width="0.08" vector-effect="non-scaling-stroke">0</text>
<text transform="translate(72.30 682.30) scale(0.57 1)" x="-1.40 9.30 21.93 28.42 41.05" font-size="19.6" fill="#949494" stroke="#949494" stroke-width="0.08" vector-effect="non-scaling-stroke">19.64</text>
<text transform="translate(118.70 682.30) scale(0.57 1)" x="0.00 12.63 25.26 31.75 44.39" font-size="19.6" fill="#949494" stroke="#949494" stroke-width="0.08" vector-effect="non-scaling-stroke">39.28</text>
<text transform="translate(165.10 682.30) scale(0.57 1)" x="0.00 12.63 25.26 31.75 44.39" font-size="19.6" fill="#949494" stroke="#949494" stroke-width="0.08" vector-effect="non-scaling-stroke">58.92</text>
<text transform="translate(211.50 682.30) scale(0.57 1)" x="0.00 12.63 25.26 31.75 44.39" font-size="19.6" fill="#949494" stroke="#949494" stroke-width="0.08" vector-effect="non-scaling-stroke">78.56</text>
<text transform="translate(257.90 682.30) scale(0.57 1)" x="0.00 12.63 25.26 31.75 44.39" font-size="19.6" fill="#949494" stroke="#949494" stroke-width="0.08" vector-effect="non-scaling-stroke">98.20</text>
<text transform="translate(304.30 682.30) scale(0.57 1)" x="-1.40 7.89 18.60 31.23 37.72" font-size="19.6" fill="#949494" stroke="#949494" stroke-width="0.08" vector-effect="non-scaling-stroke">117.8</text>
<text transform="translate(350.70 682.30) scale(0.57 1)" x="-1.40 9.30 21.93 34.56 41.05" font-size="19.6" fill="#949494" stroke="#949494" stroke-width="0.08" vector-effect="non-scaling-stroke">137.5</text>
<text transform="translate(397.10 682.30) scale(0.57 1)" x="-1.40 9.30 21.93 34.56 39.65" font-size="19.6" fill="#949494" stroke="#949494" stroke-width="0.08" vector-effect="non-scaling-stroke">157.1</text>
<text transform="translate(443.50 682.30) scale(0.57 1)" x="-1.40 9.30 21.93 34.56 41.05" font-size="19.6" fill="#949494" stroke="#949494" stroke-width="0.08" vector-effect="non-scaling-stroke">176.8</text>
<text transform="translate(489.90 682.30) scale(0.57 1)" x="-1.40 9.30 21.93 34.56 41.05" font-size="19.6" fill="#949494" stroke="#949494" stroke-width="0.08" vector-effect="non-scaling-stroke">196.4</text>
<text transform="translate(536.30 682.30) scale(0.57 1)" x="0.00 11.23 21.93" font-size="19.6" fill="#949494" stroke="#949494" stroke-width="0.08" vector-effect="non-scaling-stroke">216</text>
<text transform="translate(582.70 682.30) scale(0.57 1)" x="0.00 12.63 25.26 37.89 44.39" font-size="19.6" fill="#949494" stroke="#949494" stroke-width="0.08" vector-effect="non-scaling-stroke">235.7</text>
<text transform="translate(629.10 682.30) scale(0.57 1)" x="0.00 12.63 25.26 37.89 44.39" font-size="19.6" fill="#949494" stroke="#949494" stroke-width="0.08" vector-effect="non-scaling-stroke">255.3</text>
<text transform="translate(675.50 682.30) scale(0.57 1)" x="0.00 12.63 25.26" font-size="19.6" fill="#949494" stroke="#949494" stroke-width="0.08" vector-effect="non-scaling-stroke">275</text>
<text transform="translate(721.90 682.30) scale(0.57 1)" x="0.00 12.63 25.26 37.89 44.39" font-size="19.6" fill="#949494" stroke="#949494" stroke-width="0.08" vector-effect="non-scaling-stroke">294.6</text>
<text transform="translate(768.30 682.30) scale(0.57 1)" x="0.00 11.23 21.93 34.56 41.05" font-size="19.6" fill="#949494" stroke="#949494" stroke-width="0.08" vector-effect="non-scaling-stroke">314.2</text>
<text transform="translate(814.70 682.30) scale(0.57 1)" x="0.00 12.63 25.26 37.89 44.39" font-size="19.6" fill="#949494" stroke="#949494" stroke-width="0.08" vector-effect="non-scaling-stroke">333.9</text>
<text transform="translate(861.10 682.30) scale(0.57 1)" x="0.00 12.63 25.26 37.89 44.39" font-size="19.6" fill="#949494" stroke="#949494" stroke-width="0.08" vector-effect="non-scaling-stroke">353.5</text>
<text transform="translate(907.50 682.30) scale(0.57 1)" x="0.00 12.63 25.26 37.89 44.39" font-size="19.6" fill="#949494" stroke="#949494" stroke-width="0.08" vector-effect="non-scaling-stroke">373.2</text>
<text transform="translate(953.90 682.30) scale(0.57 1)" x="0.00 12.63 25.26 37.89 44.39" font-size="19.6" fill="#949494" stroke="#949494" stroke-width="0.08" vector-effect="non-scaling-stroke">392.8</text>
<text transform="translate(1000.30 682.30) scale(0.57 1)" x="0.00 11.23 21.93 34.56 41.05" font-size="19.6" fill="#949494" stroke="#949494" stroke-width="0.08" vector-effect="non-scaling-stroke">412.4</text>
<text transform="translate(1046.70 682.30) scale(0.57 1)" x="0.00 12.63 25.26 37.89 42.98" font-size="19.6" fill="#949494" stroke="#949494" stroke-width="0.08" vector-effect="non-scaling-stroke">432.1</text>
<text transform="translate(1093.10 682.30) scale(0.57 1)" x="0.00 12.63 23.86 34.56 41.05" font-size="19.6" fill="#949494" stroke="#949494" stroke-width="0.08" vector-effect="non-scaling-stroke">451.7</text>
<text transform="translate(1139.50 682.30) scale(0.57 1)" x="0.00 12.63 23.86 34.56 41.05" font-size="19.6" fill="#949494" stroke="#949494" stroke-width="0.08" vector-effect="non-scaling-stroke">471.4</text>
<text transform="translate(1185.90 682.30) scale(0.57 1)" x="0.00 12.63 23.86" font-size="19.6" fill="#949494" stroke="#949494" stroke-width="0.08" vector-effect="non-scaling-stroke">491</text>
<text transform="translate(1209.00 639.20) scale(0.62 1)" x="-0.48 5.65 8.55 16.37 24.19" font-size="12.6" fill="#8c8c8c" stroke="#8c8c8c" stroke-width="0.3" vector-effect="non-scaling-stroke">1,000</text>
<text transform="translate(1209.00 614.20) scale(0.62 1)" x="0.00 7.82 10.73 18.55 26.37" font-size="12.6" fill="#8c8c8c" stroke="#8c8c8c" stroke-width="0.3" vector-effect="non-scaling-stroke">2,000</text>
<text transform="translate(1209.00 589.20) scale(0.62 1)" x="0.00 7.82 10.73 18.55 26.37" font-size="12.6" fill="#8c8c8c" stroke="#8c8c8c" stroke-width="0.3" vector-effect="non-scaling-stroke">3,000</text>
<text transform="translate(1209.00 564.20) scale(0.62 1)" x="0.00 7.82 10.73 18.55 26.37" font-size="12.6" fill="#8c8c8c" stroke="#8c8c8c" stroke-width="0.3" vector-effect="non-scaling-stroke">4,000</text>
<text transform="translate(1209.00 539.20) scale(0.62 1)" x="0.00 7.82 10.73 18.55 26.37" font-size="12.6" fill="#8c8c8c" stroke="#8c8c8c" stroke-width="0.3" vector-effect="non-scaling-stroke">5,000</text>
<text transform="translate(1209.00 514.20) scale(0.62 1)" x="0.00 7.82 10.73 18.55 26.37" font-size="12.6" fill="#8c8c8c" stroke="#8c8c8c" stroke-width="0.3" vector-effect="non-scaling-stroke">6,000</text>
<text transform="translate(1209.00 489.20) scale(0.62 1)" x="0.00 7.82 10.73 18.55 26.37" font-size="12.6" fill="#8c8c8c" stroke="#8c8c8c" stroke-width="0.3" vector-effect="non-scaling-stroke">7,000</text>
<text transform="translate(1209.00 464.20) scale(0.62 1)" x="0.00 7.82 10.73 18.55 26.37" font-size="12.6" fill="#8c8c8c" stroke="#8c8c8c" stroke-width="0.3" vector-effect="non-scaling-stroke">8,000</text>
<text transform="translate(1209.00 439.20) scale(0.62 1)" x="0.00 7.82 10.73 18.55 26.37" font-size="12.6" fill="#8c8c8c" stroke="#8c8c8c" stroke-width="0.3" vector-effect="non-scaling-stroke">9,000</text>
<text transform="translate(1209.00 414.20) scale(0.62 1)" x="-0.48 5.65 13.47 16.37 24.19 32.02" font-size="12.6" fill="#8c8c8c" stroke="#8c8c8c" stroke-width="0.3" vector-effect="non-scaling-stroke">10,000</text>
<text transform="translate(146.80 402.30) scale(0.62 1)" x="0.00 7.82 10.73 18.55 26.37" font-size="12.6" fill="#DC3341" stroke="#DC3341" stroke-width="0.3" vector-effect="non-scaling-stroke">9,984</text>
<text transform="translate(0 705.0) scale(0.72 1)" x="832.61 847.36 856.11 862.04 873.17 883.38 889.44 894.51 909.93 922.81" font-size="19.6" fill="#888888" stroke="#888888" stroke-width="0.4" vector-effect="non-scaling-stroke" xml:space="preserve">Price, USD</text>
<g transform="translate(1270 634.2) rotate(-90)"><text y="0" font-size="20" fill="#888888" stroke="#888888" stroke-width="0.5"><tspan x="-1.12" textLength="57.90" lengthAdjust="spacingAndGlyphs">Number</tspan> <tspan x="61.85" textLength="14.33" lengthAdjust="spacingAndGlyphs">of</tspan> <tspan x="79.85" textLength="57.99" lengthAdjust="spacingAndGlyphs">services</tspan> <tspan x="142.80" textLength="62.55" lengthAdjust="spacingAndGlyphs">provided</tspan></text></g>
</g>
<g id="legend">
<rect class="c" x="20" y="710" width="41" height="21" fill="#20DB99"/>
<text transform="translate(0 729.6) scale(0.785 1)" x="92.75 107.64 117.64 135.99 147.58 156.18 172.57 189.17 197.71 214.85 234.33 243.22" font-size="30" fill="#20DB99" stroke="#20DB99" stroke-width="0.8" vector-effect="non-scaling-stroke" xml:space="preserve"><tspan font-size="23.5" dy="-2.2">=</tspan><tspan dy="2.2"> price paid</tspan></text>
<rect class="c" x="250" y="710" width="41" height="21" fill="#DC3341"/>
<text transform="translate(0 729.6) scale(0.785 1)" x="385.75 400.64 410.64 428.98 440.57 449.17 465.57 482.17 490.76 502.00 519.45 538.22 555.69 572.90 589.76 600.22 618.51" font-size="30" fill="#DC3341" stroke="#DC3341" stroke-width="0.8" vector-effect="non-scaling-stroke" xml:space="preserve"><tspan font-size="23.5" dy="-2.2">=</tspan><tspan dy="2.2"> price requested</tspan></text>
</g>
<text transform="translate(0 734.5) scale(0.775 1)" x="1265.65 1296.08 1318.89 1344.41 1356.85 1371.64 1396.36 1418.31 1443.74 1458.92 1480.65 1510.80 1535.74 1558.14 1573.54 1585.60 1597.03 1624.22 1639.57" font-size="40.4" fill="#484848" stroke="#484848" stroke-width="1.05" vector-effect="non-scaling-stroke" xml:space="preserve">HealthcareCost.info</text>
</svg>
</body>
</html>
